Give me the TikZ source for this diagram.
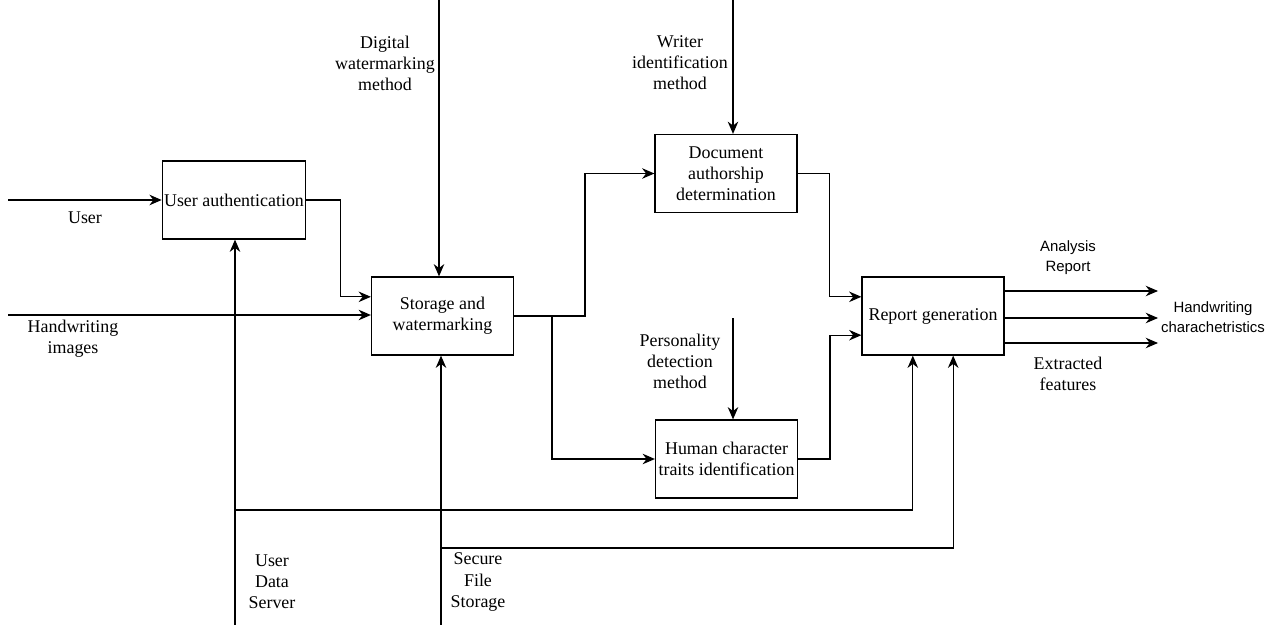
\documentclass[tikz,border=0pt]{standalone}
\usepackage{fontspec}
\setmainfont{Liberation Serif}
\newfontfamily\arialfont{Liberation Sans}
\usetikzlibrary{arrows.meta}
\tikzset{
  func/.style={draw, line width=0.7pt, minimum width=2.84cm, minimum height=1.56cm,
    align=center, inner sep=1pt},
  flow/.style={line width=0.7pt, -{Stealth[length=7pt,width=6pt]}},
  lbl/.style={align=center, inner sep=0pt},
  slbl/.style={align=center, inner sep=0pt, font=\arialfont\fontsize{8.5}{11.5}\selectfont},
}
\begin{document}
\begin{tikzpicture}[x=0.02cm, y=-0.02cm, font=\fontsize{10.2}{12}\selectfont]
  \useasboundingbox (0,0) rectangle (1271,625);
  \node [func] (auth) at (234,200) {User authentication};
  \node [func] (stor) at (442.5,316) {Storage and\\watermarking};
  \node [func] (doc) at (726,173.5) {Document\\authorship\\determination};
  \node [func] (hum) at (726.5,459) {Human character\\traits identification};
  \node [func] (rep) at (933,316) {Report generation};

  \coordinate (usr) at (8,200);
  \coordinate (hwi) at (8,315);
  \coordinate (dwm) at (439,0);
  \coordinate (wim) at (733,0);
  \coordinate (pdm) at (733,318);
  \coordinate (uds) at (235,625);
  \coordinate (sfs) at (441,625);

  \draw [flow] (usr) -- (auth.west);
  \draw [flow] (hwi) -- (hwi -| stor.west);
  \draw [flow] (auth.east) -- ++(34,0) |- (stor.165);
  \draw [flow] (dwm) -- (dwm |- stor.north);
  \draw [flow] (stor.east) -- ++(71,0) |- (doc.west);
  \draw [flow] (stor.east) ++(38,0) |- (hum.west);
  \draw [flow] (wim) -- (wim |- doc.north);
  \draw [flow] (pdm) -- (pdm |- hum.north);
  \draw [flow] (doc.east) -- ++(32,0) |- (rep.165);
  \draw [flow] (hum.east) -- ++(32,0) |- (rep.195);
  \draw [flow] (uds) -- (uds |- auth.south);
  \draw [flow] (sfs) -- (sfs |- stor.south);
  \draw [flow] (uds |- 0,510) -| (rep.243);
  \draw [flow] (sfs |- 0,548) -| (rep.297);
  \foreach \yy in {291,318,343} {
    \draw [flow] (rep.east |- 0,\yy) -- (1158,\yy);
  }

  \node [lbl] (lusr) at (85,218) {User};
  \node [lbl] (lhwi) at (73,339) {Handwriting\\images};
  \node [lbl] (ldwm) at (385,63) {Digital\\watermarking\\method};
  \node [lbl] (lwim) at (680,63) {Writer\\identification\\method};
  \node [lbl] (lpdm) at (680,361) {Personality\\detection\\method};
  \node [slbl] (lar) at (1068,258) {Analysis\\Report};
  \node [slbl] (lhc) at (1213,317) {Handwriting\\charachetristics};
  \node [lbl] (lef) at (1068,374) {Extracted\\features};
  \node [lbl] (luds) at (272,582) {User\\Data\\Server};
  \node [lbl] (lsfs) at (478,582) {Secure\\File\\Storage};
\end{tikzpicture}
\end{document}
